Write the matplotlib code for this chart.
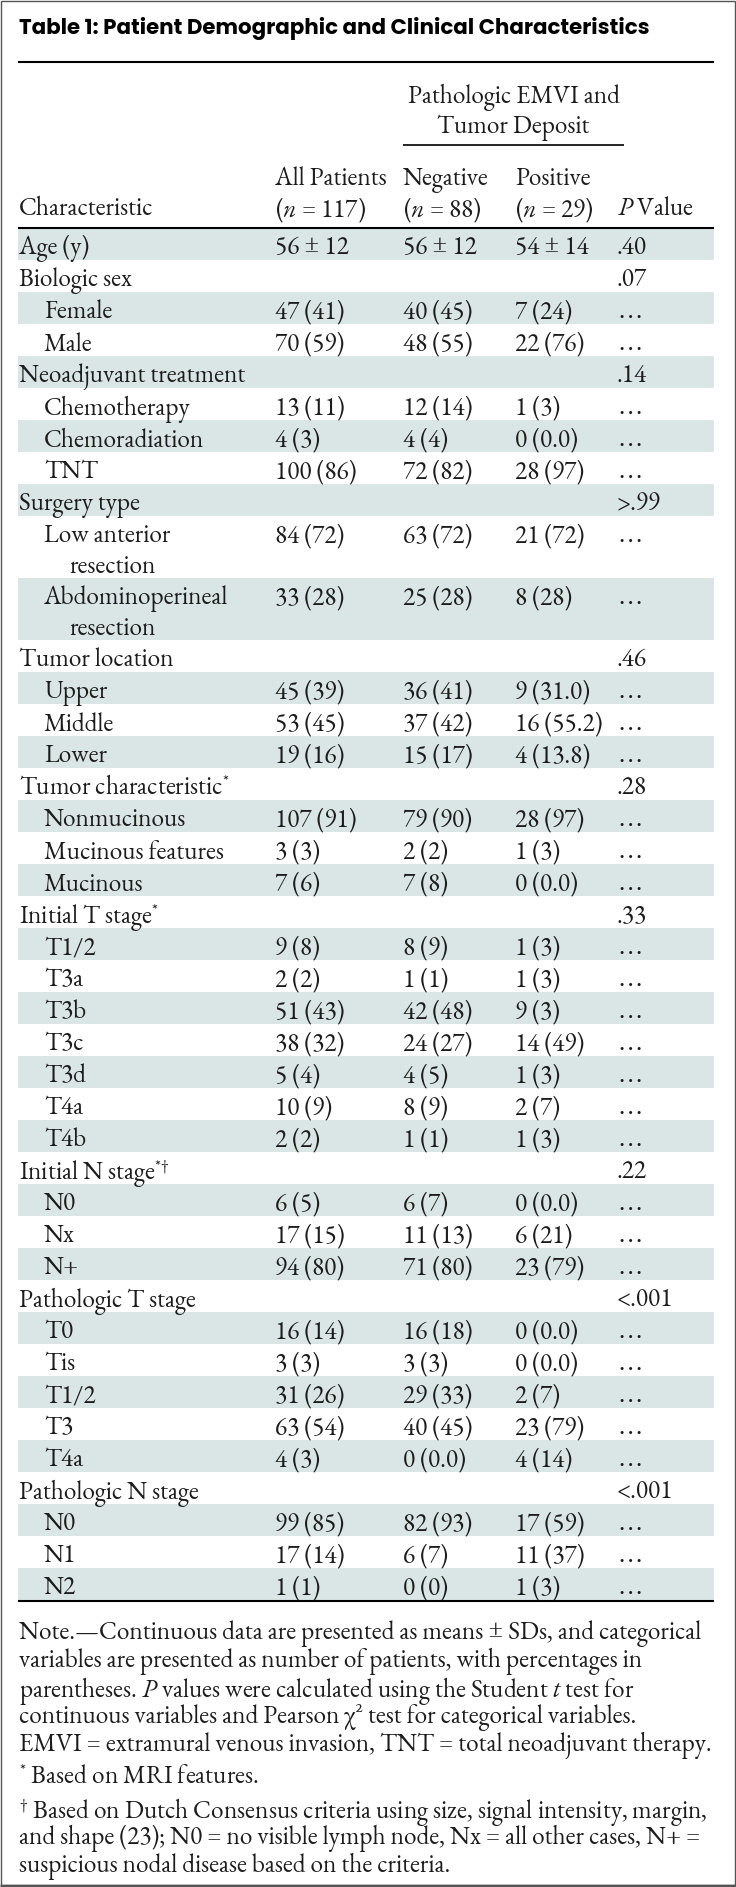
import matplotlib
matplotlib.use("Agg")
import matplotlib.pyplot as plt
from matplotlib.patches import Rectangle
from matplotlib import font_manager as fm
from matplotlib.font_manager import FontProperties

_entries = fm.fontManager.ttflist
_names = set(f.name for f in _entries)


def pick(cands):
    for c in cands:
        if c in _names:
            return c
    return cands[-1]


def _w(e):
    w = e.weight
    if isinstance(w, str):
        w = fm.weight_dict.get(w, 400)
    return w


def pick_bold(cands):
    for c in cands:
        for lo, hi in ((700, 760), (600, 900)):
            hits = [e for e in _entries if e.name == c and lo <= _w(e) <= hi and e.style == "normal"]
            if hits:
                hits.sort(key=lambda e: abs(_w(e) - 750))
                return FontProperties(fname=hits[0].fname)
    return FontProperties(family="DejaVu Sans", weight="bold")


SERIF = pick(["EB Garamond", "Cormorant Garamond", "Liberation Serif"])
TITLE_FP = pick_bold(["Jost", "League Spartan", "Poppins", "Lato"])

plt.rcParams['mathtext.fontset'] = 'custom'
plt.rcParams['mathtext.rm'] = SERIF
plt.rcParams['mathtext.it'] = SERIF + ':italic'
plt.rcParams['mathtext.bf'] = SERIF + ':bold'

# ---------------- data ----------------
title = "Table 1: Patient Demographic and Clinical Characteristics"
group_header = ["Pathologic EMVI and", "Tumor Deposit"]
col_headers_top = ["All Patients", "Negative", "Positive"]
col_headers_bottom = [r"($n$ = 117)", r"($n$ = 88)", r"($n$ = 29)"]
char_header = "Characteristic"
p_header = r"$P$ Value"

labels = ["Age (y)", "Biologic sex", "Female", "Male", "Neoadjuvant treatment",
          "Chemotherapy", "Chemoradiation", "TNT", "Surgery type",
          "Low anterior\nresection", "Abdominoperineal\nresection",
          "Tumor location", "Upper", "Middle", "Lower",
          r"Tumor characteristic$^{*}$", "Nonmucinous", "Mucinous features", "Mucinous",
          r"Initial T stage$^{*}$", "T1/2", "T3a", "T3b", "T3c", "T3d", "T4a", "T4b",
          r"Initial N stage$^{*†}$", "N0", "Nx", "N+",
          "Pathologic T stage", "T0", "Tis", "T1/2", "T3", "T4a",
          "Pathologic N stage", "N0", "N1", "N2"]
levels = [0, 0, 1, 1, 0, 1, 1, 1, 0, 1, 1, 0, 1, 1, 1, 0, 1, 1, 1,
          0, 1, 1, 1, 1, 1, 1, 1, 0, 1, 1, 1, 0, 1, 1, 1, 1, 1, 0, 1, 1, 1]
all_patients = ["56 ± 12", "", "47 (41)", "70 (59)", "", "13 (11)", "4 (3)", "100 (86)", "",
                "84 (72)", "33 (28)", "", "45 (39)", "53 (45)", "19 (16)", "", "107 (91)",
                "3 (3)", "7 (6)", "", "9 (8)", "2 (2)", "51 (43)", "38 (32)", "5 (4)",
                "10 (9)", "2 (2)", "", "6 (5)", "17 (15)", "94 (80)", "", "16 (14)", "3 (3)",
                "31 (26)", "63 (54)", "4 (3)", "", "99 (85)", "17 (14)", "1 (1)"]
negative = ["56 ± 12", "", "40 (45)", "48 (55)", "", "12 (14)", "4 (4)", "72 (82)", "",
            "63 (72)", "25 (28)", "", "36 (41)", "37 (42)", "15 (17)", "", "79 (90)",
            "2 (2)", "7 (8)", "", "8 (9)", "1 (1)", "42 (48)", "24 (27)", "4 (5)",
            "8 (9)", "1 (1)", "", "6 (7)", "11 (13)", "71 (80)", "", "16 (18)", "3 (3)",
            "29 (33)", "40 (45)", "0 (0.0)", "", "82 (93)", "6 (7)", "0 (0)"]
positive = ["54 ± 14", "", "7 (24)", "22 (76)", "", "1 (3)", "0 (0.0)", "28 (97)", "",
            "21 (72)", "8 (28)", "", "9 (31.0)", "16 (55.2)", "4 (13.8)", "", "28 (97)",
            "1 (3)", "0 (0.0)", "", "1 (3)", "1 (3)", "9 (3)", "14 (49)", "1 (3)",
            "2 (7)", "1 (3)", "", "0 (0.0)", "6 (21)", "23 (79)", "", "0 (0.0)", "0 (0.0)",
            "2 (7)", "23 (79)", "4 (14)", "", "17 (59)", "11 (37)", "1 (3)"]
p_values = [".40", ".07", "…", "…", ".14", "…", "…", "…", ">.99", "…", "…", ".46",
            "…", "…", "…", ".28", "…", "…", "…", ".33", "…", "…", "…", "…", "…", "…",
            "…", ".22", "…", "…", "…", "<.001", "…", "…", "…", "…", "…", "<.001",
            "…", "…", "…"]

notes = [
    "Note.—Continuous data are presented as means ± SDs, and categorical",
    "variables are presented as number of patients, with percentages in",
    r"parentheses. $P$ values were calculated using the Student $t$ test for",
    "continuous variables and Pearson χ² test for categorical variables.",
    "EMVI = extramural venous invasion, TNT = total neoadjuvant therapy.",
]
footnotes = [
    [r"$^{*}$ Based on MRI features."],
    [r"$^{†}$ Based on Dutch Consensus criteria using size, signal intensity, margin,",
     "and shape (23); N0 = no visible lymph node, Nx = all other cases, N+ =",
     "suspicious nodal disease based on the criteria."],
]

# ---------------- layout ----------------
W, H = 736, 1887
fig = plt.figure(figsize=(W / 100, H / 100), dpi=100)
ax = fig.add_axes([0, 0, 1, 1])
ax.set_xlim(0, W)
ax.set_ylim(H, 0)
ax.axis("off")
fig.canvas.draw()
renderer = fig.canvas.get_renderer()

fam = [SERIF, "Liberation Serif", "DejaVu Serif"]
txt_color = "#1c1c1c"
shade = "#dae6e5"
left, right = 18, 714
x_char = 19
x_indent = 44
x_wrap = 69
x_cols = [275, 403, 515]
x_p = 617


def text_width(s, **kw):
    t = ax.text(0, 0, s, **kw)
    w = t.get_window_extent(renderer).width
    t.remove()
    return w


fs = 16.0 * 685 / text_width(notes[0], fontsize=16.0, fontfamily=fam)
tp = TITLE_FP.copy()
tp.set_size(16.0)
fs_title = 16.0 * 629 / text_width(title, fontproperties=tp)
tp.set_size(fs_title)


def put(x, y, s, ha="left"):
    f = ["Liberation Serif"] if s == "…" else fam
    ax.text(x, y, s, fontsize=fs, fontfamily=f, ha=ha, va="center_baseline", color=txt_color)


# frame
ax.add_patch(Rectangle((0.5, 0.5), W - 2, H - 3, fill=False, edgecolor="#555555", lw=1.0))
ax.plot([0, W], [H - 1.5, H - 1.5], color="#555555", lw=2.5, solid_capstyle="butt")

# title
ax.text(19, 29, title, fontproperties=tp, color="black", va="center", ha="left")
ax.plot([left, right], [62, 62], color="black", lw=1.5, solid_capstyle="butt")

# header
gx = (403 + 624) / 2
put(gx, 93, group_header[0], ha="center")
put(gx, 124, group_header[1], ha="center")
ax.plot([403, 624], [145, 145], color="black", lw=1.2, solid_capstyle="butt")
for xc, top, bot in zip(x_cols, col_headers_top, col_headers_bottom):
    put(xc, 176, top)
    put(xc, 206, bot)
put(x_char, 206, char_header)
put(x_p, 206, p_header)
ax.plot([left, right], [228, 228], color="black", lw=1.5, solid_capstyle="butt")

# body
y = 228
single, double = 32, 62
for i, lab in enumerate(labels):
    two = "\n" in lab
    h = double if two else single
    if i % 2 == 0:
        ax.add_patch(Rectangle((left, y), right - left, h, facecolor=shade, edgecolor="none", zorder=0))
    yc = y + 17
    xl = x_indent if levels[i] == 1 else x_char
    if two:
        l1, l2 = lab.split("\n")
        put(xl, yc, l1)
        put(x_wrap, yc + 31, l2)
    else:
        put(xl, yc, lab)
    for xc, v in zip(x_cols, [all_patients[i], negative[i], positive[i]]):
        if v:
            put(xc, yc, v)
    put(x_p, yc, p_values[i])
    y += h

ax.plot([left, right], [y + 0.5, y + 0.5], color="black", lw=1.5, solid_capstyle="butt")

# notes
ny = 1630
for line in notes:
    put(x_char, ny, line)
    ny += 27.8
ny += 4
for block in footnotes:
    for line in block:
        put(x_char, ny, line)
        ny += 27.8
    ny += 6

fig.savefig("out.png", dpi=100)
